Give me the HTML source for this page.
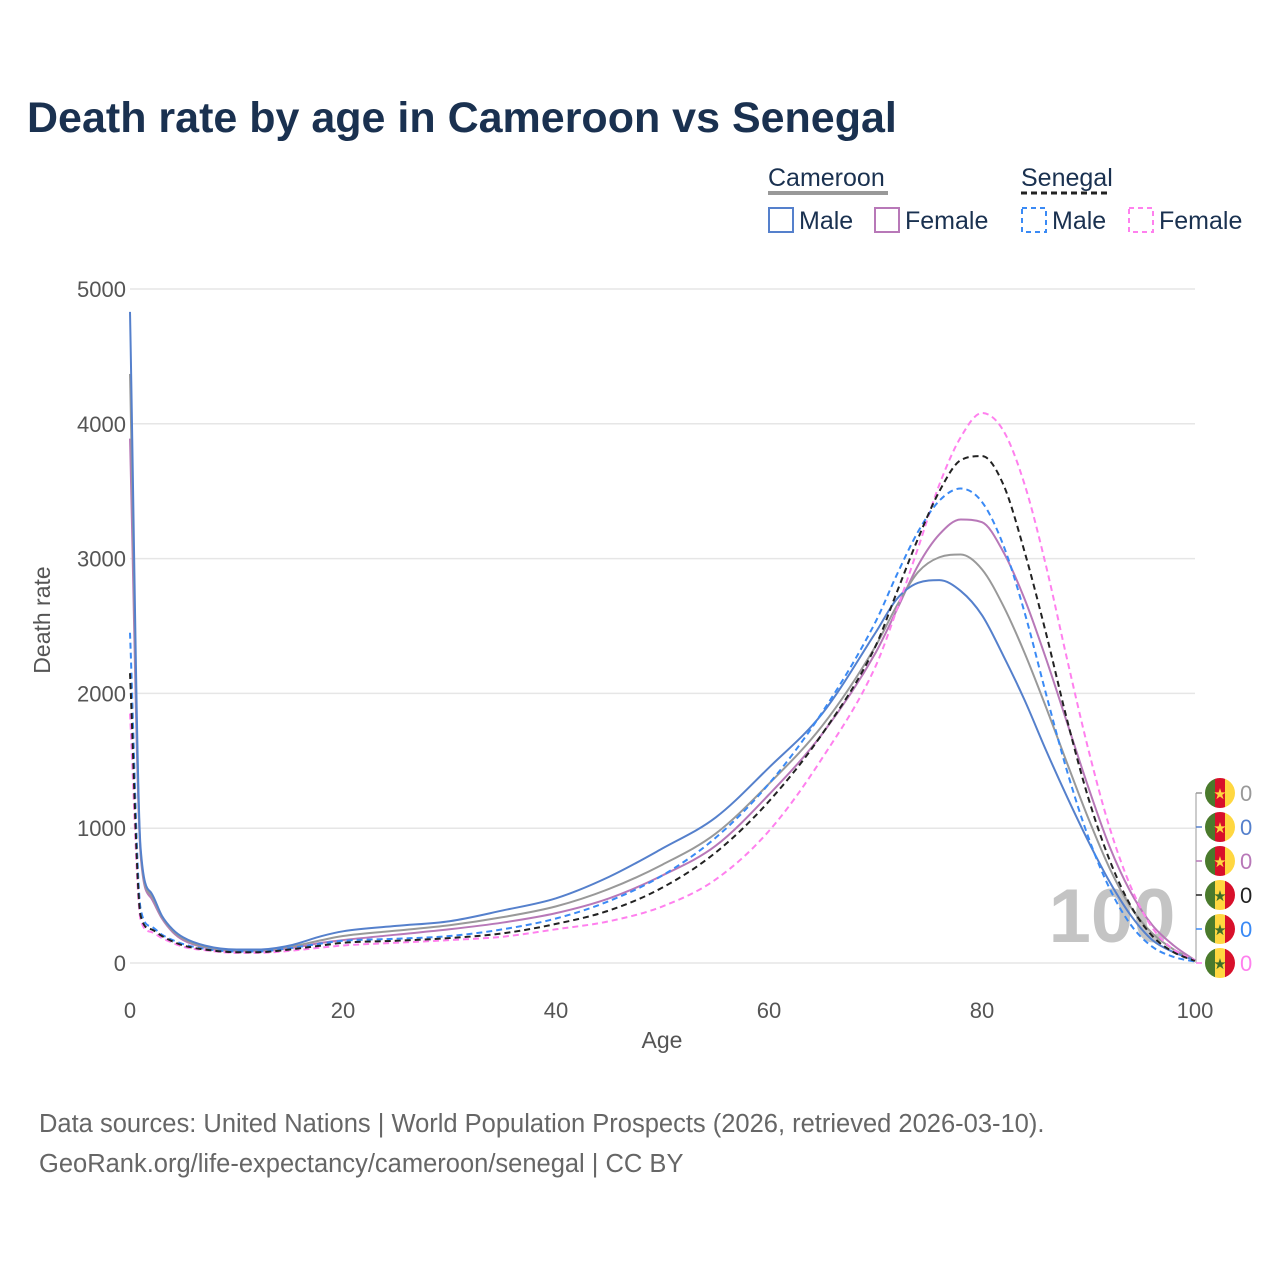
<!DOCTYPE html>
<html><head><meta charset="utf-8"><style>
body{margin:0;background:#fff;}
svg{display:block;font-family:"Liberation Sans",sans-serif;}
</style></head><body>
<svg id="chart" width="1280" height="1280" viewBox="0 0 1280 1280">
<text x="27" y="132" font-size="43" font-weight="bold" fill="#1a3150">Death rate by age in Cameroon vs Senegal</text>
<g fill="#1a3150" font-size="25">
<text x="768" y="186">Cameroon</text>
<line x1="768" x2="888" y1="193" y2="193" stroke="#999" stroke-width="4"/>
<text x="1021" y="186">Senegal</text>
<line x1="1021" x2="1110" y1="193" y2="193" stroke="#222" stroke-width="3" stroke-dasharray="6,4"/>
<g><rect x="769" y="208" width="24" height="24" fill="none" stroke="#5580cc" stroke-width="2"/><text x="799" y="229">Male</text></g>
<g><rect x="875" y="208" width="24" height="24" fill="none" stroke="#b878b8" stroke-width="2"/><text x="905" y="229">Female</text></g>
<g><rect x="1022" y="208" width="24" height="24" fill="none" stroke="#3a8af5" stroke-width="2" stroke-dasharray="5,4"/><text x="1052" y="229">Male</text></g>
<g><rect x="1129" y="208" width="24" height="24" fill="none" stroke="#ff80ee" stroke-width="2" stroke-dasharray="5,4"/><text x="1159" y="229">Female</text></g>
</g>
<g id="grid"></g>
<text x="1112" y="942" font-size="76" font-weight="bold" fill="#c4c4c4" text-anchor="middle">100</text>
<g id="series"></g>
<g id="axes" font-size="22" fill="#555"></g>
<text x="50" y="620" font-size="23" fill="#555" text-anchor="middle" transform="rotate(-90 50 620)">Death rate</text>
<text x="662" y="1048" font-size="23" fill="#555" text-anchor="middle">Age</text>
<g id="flags"></g>
<text x="39" y="1132" font-size="25.5" fill="#666">Data sources: United Nations | World Population Prospects (2026, retrieved 2026-03-10).</text>
<text x="39" y="1172" font-size="25.5" fill="#666">GeoRank.org/life-expectancy/cameroon/senegal | CC BY</text>
</svg>
<script>
const ages=[0,1,2,3,4,5,7,10,12,15,18,20,25,30,35,40,45,50,55,60,65,70,72,74,76,78,80,82,84,86,88,90,92,94,96,98,100];
const cmMale=[4830,850,520,350,250,190,130,100,100,130,200,235,275,310,390,480,640,850,1080,1450,1850,2450,2700,2820,2840,2760,2580,2280,1950,1580,1230,900,600,350,170,80,20];
const cmTotal=[4370,820,500,340,240,180,120,95,95,120,170,200,240,280,340,420,550,730,960,1330,1760,2350,2650,2900,3010,3030,2920,2650,2300,1900,1480,1070,700,410,220,100,20];
const cmFemale=[3890,800,480,330,230,170,115,90,90,110,150,170,210,250,300,370,480,650,870,1250,1700,2300,2620,2950,3180,3290,3270,3050,2700,2260,1780,1300,860,520,280,130,20];
const snTotal=[2150,350,250,200,160,130,100,80,80,100,130,150,165,185,220,290,390,560,820,1200,1700,2350,2750,3150,3500,3730,3760,3550,3050,2450,1800,1220,760,420,200,80,15];
const snMale=[2450,400,270,210,170,140,105,85,85,110,145,165,180,200,250,330,460,650,930,1330,1860,2530,2880,3200,3430,3520,3420,3100,2600,2000,1420,930,550,280,120,45,10];
const snFemale=[1850,320,230,185,150,120,95,75,75,90,115,130,150,170,195,250,310,420,620,980,1520,2200,2620,3080,3550,3900,4080,3950,3550,2950,2250,1580,1000,560,260,100,20];
const yTicks=[0,1000,2000,3000,4000,5000];
const xTicks=[0,20,40,60,80,100];
const NS='http://www.w3.org/2000/svg';
const X=a=>130+a*10.65, Y=v=>963-v*0.1348;
function mk(t,p,at){const e=document.createElementNS(NS,t);for(const k in at)e.setAttribute(k,at[k]);p.appendChild(e);return e;}
function monoPath(xs,ys){
 const n=xs.length,d=[],m=[];
 for(let i=0;i<n-1;i++)d.push((ys[i+1]-ys[i])/(xs[i+1]-xs[i]));
 m[0]=d[0];m[n-1]=d[n-2];
 for(let i=1;i<n-1;i++){m[i]=(d[i-1]*d[i]<=0)?0:(d[i-1]+d[i])/2;}
 for(let i=0;i<n-1;i++){if(d[i]===0){m[i]=0;m[i+1]=0;continue;}const a=m[i]/d[i],b=m[i+1]/d[i],s=a*a+b*b;if(s>9){const t=3/Math.sqrt(s);m[i]=t*a*d[i];m[i+1]=t*b*d[i];}}
 let p='M'+xs[0]+','+ys[0];
 for(let i=0;i<n-1;i++){const h=(xs[i+1]-xs[i])/3;p+=' C'+(xs[i]+h)+','+(ys[i]+m[i]*h)+' '+(xs[i+1]-h)+','+(ys[i+1]-m[i+1]*h)+' '+xs[i+1]+','+ys[i+1];}
 return p;
}
const grid=document.getElementById('grid'),axes=document.getElementById('axes');
yTicks.forEach(v=>{
 const l=mk('line',grid,{x1:130,x2:1195,y1:Y(v),y2:Y(v),stroke:'#e6e6e6','stroke-width':1.5});
 
 
 const t=mk('text',axes,{x:126,y:Y(v)+8,'text-anchor':'end'});t.textContent=v;
 
 
});
xTicks.forEach(a=>{
 const t=mk('text',axes,{x:X(a),y:1018,'text-anchor':'middle'});t.textContent=a;
 
 
});
const series=[
 ['series-cameroon-female',cmFemale,'#b878b8',null],
 ['series-cameroon-total',cmTotal,'#999',null],
 ['series-cameroon-male',cmMale,'#5580cc',null],
 ['series-senegal-female',snFemale,'#ff80ee','6,4'],
 ['series-senegal-male',snMale,'#3a8af5','6,4'],
 ['series-senegal-total',snTotal,'#222','6,4']];
const sg=document.getElementById('series');
series.forEach(([n,d,c,da])=>{
 const p=mk('path',sg,{d:monoPath(ages.map(X),d.map(Y)),fill:'none',stroke:c,'stroke-width':2,'stroke-linejoin':'round'});
 if(da)p.setAttribute('stroke-dasharray',da);
 
 
});
const fg=document.getElementById('flags');
const labs=[['#999','cm'],['#5580cc','cm'],['#b878b8','cm'],['#222','sn'],['#3a8af5','sn'],['#ff80ee','sn']];
mk('line',fg,{x1:1196,x2:1196,y1:793,y2:963,stroke:'#999','stroke-width':1});
labs.forEach(([c,f],i)=>{
 const y=793+i*34;
 mk('line',fg,{x1:1196,x2:1202,y1:y,y2:y,stroke:c,'stroke-width':1.5});
 const g=mk('g',fg,{});
 
 
 const cols=f==='cm'?['#4a7a2c','#d8102a','#ffd740']:['#4a7a2c','#ffd740','#d8102a'];
 mk('clipPath',g,{id:'cf'+i});
 mk('circle',document.getElementById('cf'+i),{cx:1220,cy:y,r:15});
 const inner=mk('g',g,{'clip-path':'url(#cf'+i+')'});
 cols.forEach((cc,k)=>mk('rect',inner,{x:1205+k*10,y:y-15,width:10.5,height:30,fill:cc}));
 const st=mk('text',g,{x:1220,y:y+6,'font-size':15,'text-anchor':'middle',fill:f==='cm'?'#ffd740':'#3f6e28'});st.textContent='★';
 const t=mk('text',g,{x:1240,y:y+8,'font-size':22,fill:c});t.textContent='0';
});
</script>
</body></html>
